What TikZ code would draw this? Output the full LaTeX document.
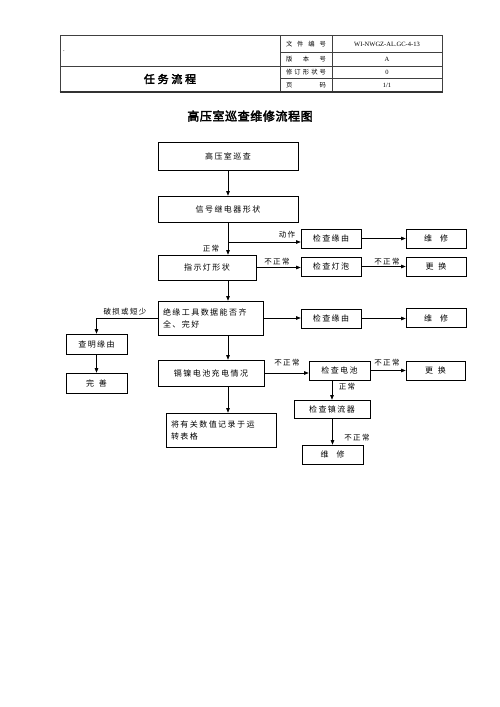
\documentclass[tikz,border=0pt]{standalone}
\usepackage{fontspec}
\setmainfont{Liberation Serif}
\newfontfamily\cjk{Noto Sans CJK SC}
\newfontfamily\cjksp[LetterSpace=18]{Noto Sans CJK SC}
\newfontfamily\cjkbold[LetterSpace=5,FakeBold=3]{Noto Sans CJK SC}
\newfontfamily\cjkhead[LetterSpace=25,FakeBold=3]{Noto Sans CJK SC}
\usetikzlibrary{arrows.meta}
\begin{document}
\begin{tikzpicture}[x=1pt,y=-1pt,
  box/.style={draw,line width=0.6pt,inner sep=0pt,font=\cjksp\fontsize{8}{12}\selectfont},
  lbl/.style={inner sep=0pt,font=\cjksp\fontsize{7.5}{9}\selectfont},
  arr/.style={line width=0.6pt,-{Triangle[length=4.5pt,width=3.5pt]}},
  ln/.style={line width=0.6pt},
  hline/.style={line width=0.5pt,draw=black!75},
  hsmall/.style={inner sep=0pt,font=\cjk\fontsize{6.3}{8}\selectfont},
  hval/.style={inner sep=0pt,font=\fontsize{6.5}{8}\selectfont}]
\useasboundingbox[fill=white] (0,0) rectangle (500,707);

% header table
\draw[hline] (60,35) rectangle (442,92);
\draw[hline] (280,35) -- (280,92);
\draw[hline] (332,35) -- (332,92);
\draw[hline] (60,66) -- (442,66);
\draw[hline] (280,52.5) -- (442,52.5);
\draw[hline] (280,78.5) -- (442,78.5);
\draw[line width=1.6pt,black!80] (59.5,92) -- (442.5,92);
\node[hval] (hdot) at (64,51) {.};
\node[inner sep=0pt,font=\cjkhead\fontsize{11}{13}\selectfont] (hname) at (170,79) {任务流程};
\node[hsmall] (hl1) at (306,44) {\makebox[40pt][s]{文\hfill 件\hfill 编\hfill 号}};
\node[hsmall] (hl2) at (306,59.3) {\makebox[40pt][s]{版\hfill 本\hfill 号}};
\node[hsmall] (hl3) at (306,72.3) {\makebox[40pt][s]{修\hfill 订\hfill 形\hfill 状\hfill 号}};
\node[hsmall] (hl4) at (306,85.3) {\makebox[40pt][s]{页\hfill 码}};
\node[hval] (hv1) at (387,44) {WI-NWGZ-AL.GC-4-13};
\node[hval] (hv2) at (387,59.3) {A};
\node[hval] (hv3) at (387,72.3) {0};
\node[hval] (hv4) at (387,85.3) {1/1};

% title
\node[inner sep=0pt,font=\cjkbold\fontsize{12}{14}\selectfont] (title) at (250,116) {高压室巡查维修流程图};

% boxes
\node[box,minimum width=140pt,minimum height=28pt] (gy) at (228,156) {高压室巡查};
\node[box,minimum width=140pt,minimum height=26pt] (xh) at (228,209) {信号继电器形状};
\node[box,minimum width=60pt,minimum height=19pt] (jc1) at (331,238.5) {检查缘由};
\node[box,minimum width=60pt,minimum height=19pt] (wx1) at (436,238.5) {维\hspace{1em}修};
\node[box,minimum width=98pt,minimum height=25pt] (zs) at (207,267.5) {指示灯形状};
\node[box,minimum width=60pt,minimum height=19pt] (jdp) at (331,266.5) {检查灯泡};
\node[box,minimum width=60pt,minimum height=19pt] (gh1) at (436,266.5) {更\hspace{0.6em}换};
\node[box,minimum width=105pt,minimum height=34pt,text width=95pt,align=left] (jy) at (210.5,318) {绝缘工具数据能否齐\\全、完好};
\node[box,minimum width=60pt,minimum height=19pt] (jc2) at (331,318.5) {检查缘由};
\node[box,minimum width=60pt,minimum height=19pt] (wx2) at (436,318) {维\hspace{1em}修};
\node[box,minimum width=61pt,minimum height=20pt] (cm) at (96.5,344) {查明缘由};
\node[box,minimum width=61pt,minimum height=20pt] (ws) at (96.5,383) {完\hspace{0.6em}善};
\node[box,minimum width=106pt,minimum height=26pt] (gn) at (211,373) {镉镍电池充电情况};
\node[box,minimum width=61pt,minimum height=19pt] (jcdc) at (339.5,370.5) {检查电池};
\node[box,minimum width=59pt,minimum height=19pt] (gh2) at (435.5,370.5) {更\hspace{0.6em}换};
\node[box,minimum width=76pt,minimum height=18pt] (jzl) at (332,409) {检查镇流器};
\node[box,minimum width=110pt,minimum height=34pt,text width=100pt,align=left] (rec) at (221,430) {将有关数值记录于运\\转表格};
\node[box,minimum width=61pt,minimum height=19pt] (wx3) at (332.5,454.5) {维\hspace{1em}修};

% trunk coordinates
\coordinate (trunk) at (228,0);
\coordinate (b1) at (228,242);

% connectors
\draw[arr] (gy.south) -- (xh.north);
\draw[arr] (xh.south) -- (xh.south |- zs.north);
\draw[arr] (b1) -- (b1 -| jc1.west);
\draw[arr] (jc1.east) -- (wx1.west);
\draw[arr] (zs.east) -- (zs.east -| jdp.west);
\draw[arr] (jdp.east) -- (gh1.west);
\draw[arr] (zs.south -| trunk) -- (jy.north -| trunk);
\draw[arr] (jy.east) -- (jy.east -| jc2.west);
\draw[arr] (jc2.east) -- (jc2.east -| wx2.west);
\draw[arr] (jy.west) -| (cm.north);
\draw[arr] (cm.south) -- (ws.north);
\draw[arr] (jy.south -| trunk) -- (gn.north -| trunk);
\draw[arr] (gn.east) -- (gn.east -| jcdc.west);
\draw[arr] (jcdc.east) -- (gh2.west);
\draw[arr] (jcdc.south -| jzl.north) -- (jzl.north);
\draw[arr] (jzl.south) -- (wx3.north |- jzl.south) -- (wx3.north);
\draw[arr] (gn.south -| trunk) -- (rec.north -| trunk);

% labels
\node[lbl] (l1) at (287,235) {动作};
\node[lbl] (l2) at (211,249) {正常};
\node[lbl] (l3) at (277,262) {不正常};
\node[lbl] (l4) at (387,262) {不正常};
\node[lbl] (l5) at (125,312) {破损或短少};
\node[lbl] (l6) at (287,363) {不正常};
\node[lbl] (l7) at (387,363) {不正常};
\node[lbl] (l8) at (347,387) {正常};
\node[lbl] (l9) at (357,438) {不正常};
\end{tikzpicture}
\end{document}
